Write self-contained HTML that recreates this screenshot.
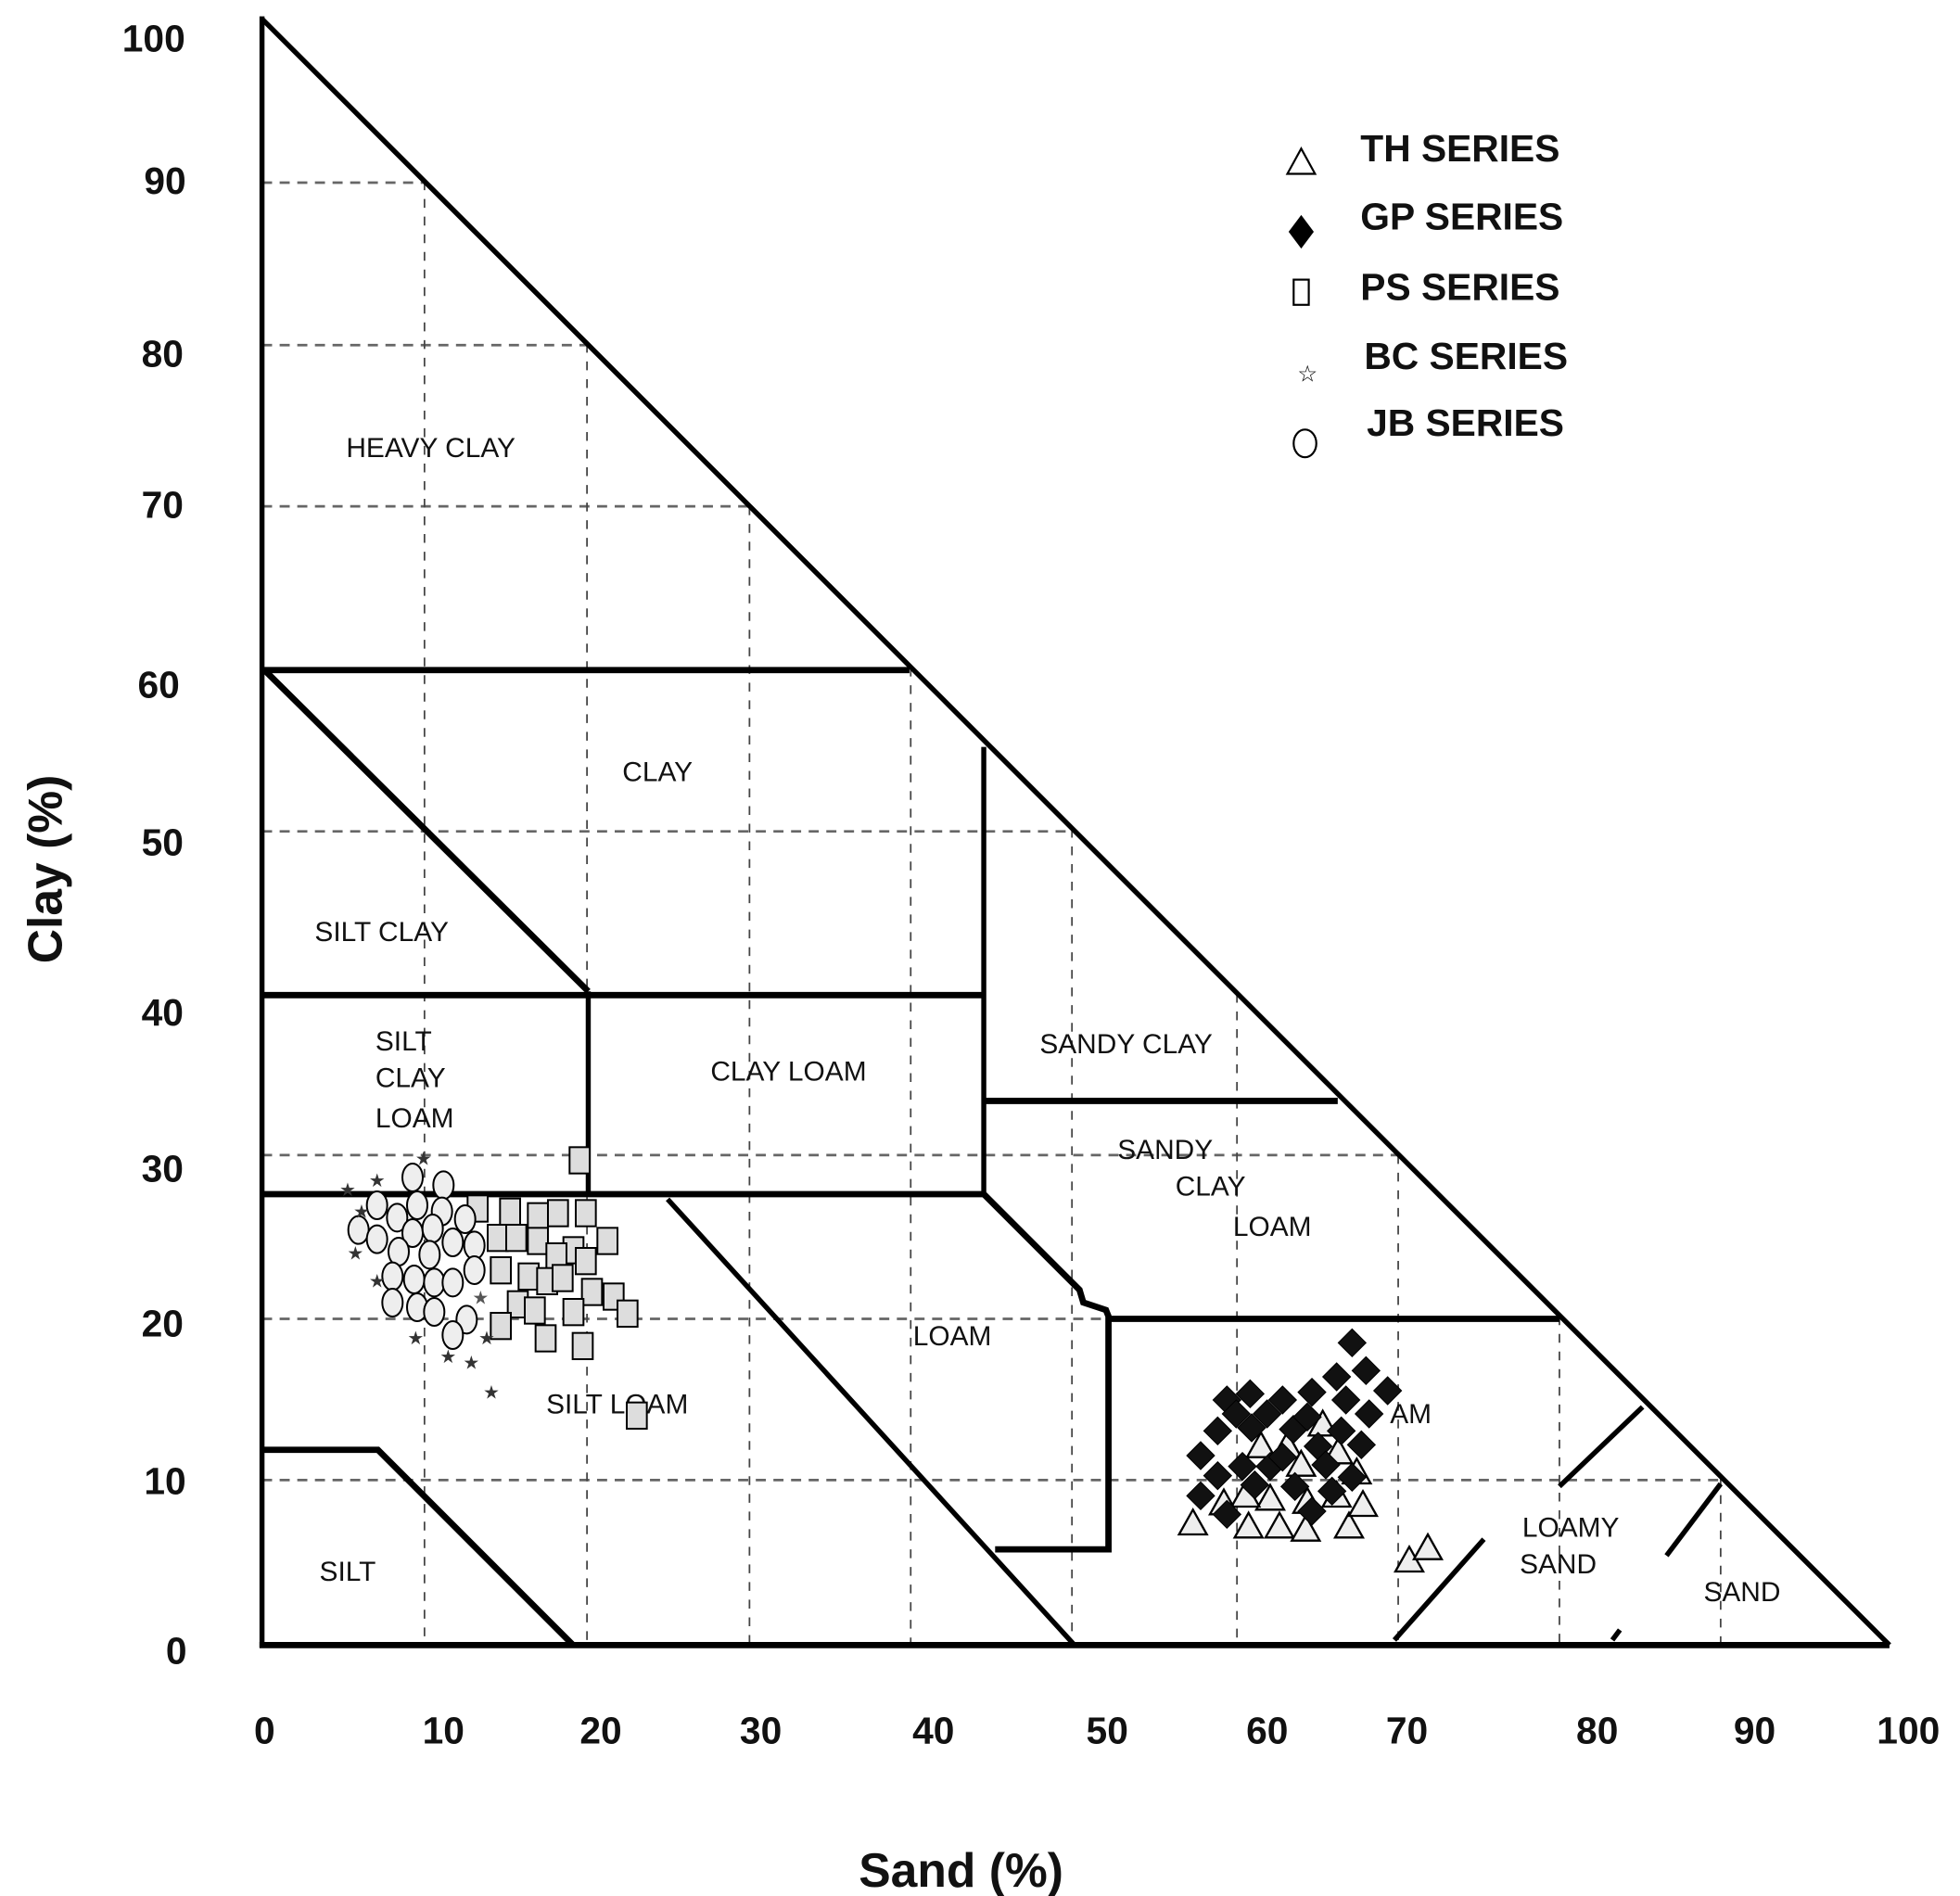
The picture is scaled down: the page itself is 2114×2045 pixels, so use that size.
<!DOCTYPE html>
<html><head><meta charset="utf-8"><style>
html,body{margin:0;padding:0;background:#fff;}
svg{display:block;}
text{font-family:"Liberation Sans",sans-serif;}
</style></head><body>
<svg width="2114" height="2045" viewBox="0 0 2114 2045" xmlns="http://www.w3.org/2000/svg">
<g transform="scale(1.35861)">
 <g stroke="#666" stroke-width="2" stroke-dasharray="8,6" fill="none">
  <line x1="208" y1="145" x2="338" y2="145"/>
  <line x1="208" y1="274" x2="467" y2="274"/>
  <line x1="208" y1="402" x2="595" y2="402"/>
  <line x1="208" y1="660" x2="853" y2="660"/>
  <line x1="208" y1="917" x2="1110" y2="917"/>
  <line x1="208" y1="1047" x2="1240" y2="1047"/>
  <line x1="208" y1="1175" x2="1368" y2="1175"/>
 </g>
 <g stroke="#444" stroke-width="1.3" stroke-dasharray="7,7" fill="none">
  <line x1="337" y1="144" x2="337" y2="1306"/>
  <line x1="466" y1="273" x2="466" y2="1306"/>
  <line x1="595" y1="402" x2="595" y2="1306"/>
  <line x1="723" y1="530" x2="723" y2="1306"/>
  <line x1="851" y1="658" x2="851" y2="1306"/>
  <line x1="982" y1="789" x2="982" y2="1306"/>
  <line x1="1110" y1="917" x2="1110" y2="1306"/>
  <line x1="1238" y1="1045" x2="1238" y2="1306"/>
  <line x1="1366" y1="1173" x2="1366" y2="1306"/>
 </g>
 <g stroke="#000" stroke-width="4" fill="none" stroke-linejoin="miter">
  <line x1="208" y1="13" x2="208" y2="1308"/>
  <line x1="208" y1="15" x2="1500" y2="1306"/>
  <line x1="206" y1="1306" x2="1500" y2="1306" stroke-width="5"/>
  <line x1="208" y1="532" x2="722" y2="532" stroke-width="5"/>
  <line x1="210" y1="532" x2="467" y2="787" stroke-width="5"/>
  <line x1="208" y1="790" x2="780" y2="790" stroke-width="5"/>
  <line x1="467" y1="787" x2="467" y2="948"/>
  <line x1="781" y1="593" x2="781" y2="948"/>
  <line x1="208" y1="948" x2="781" y2="948" stroke-width="5"/>
  <line x1="781" y1="874" x2="1062" y2="874" stroke-width="5"/>
  <polyline points="781,948 857,1024 860,1034 878,1040 880,1045 880,1230 790,1230" stroke-width="5"/>
  <line x1="880" y1="1047" x2="1238" y2="1047" stroke-width="5"/>
  <line x1="530" y1="952" x2="853" y2="1306"/>
  <polyline points="208,1151 300,1151 455,1306" stroke-width="5"/>
  <line x1="1107" y1="1302" x2="1178" y2="1222"/>
  <line x1="1238" y1="1180" x2="1304" y2="1117"/>
  <line x1="1323" y1="1235" x2="1366" y2="1178"/>
  <line x1="1280" y1="1302" x2="1286" y2="1294"/>
 </g>
 <g font-size="22" fill="#111">
  <text x="342" y="363" text-anchor="middle">HEAVY  CLAY</text>
  <text x="522" y="620" text-anchor="middle">CLAY</text>
  <text x="303" y="747" text-anchor="middle">SILT  CLAY</text>
  <text x="298" y="834">SILT</text>
  <text x="298" y="863">CLAY</text>
  <text x="298" y="895">LOAM</text>
  <text x="626" y="858" text-anchor="middle">CLAY  LOAM</text>
  <text x="894" y="836" text-anchor="middle">SANDY  CLAY</text>
  <text x="925" y="920" text-anchor="middle">SANDY</text>
  <text x="961" y="949" text-anchor="middle">CLAY</text>
  <text x="1010" y="981" text-anchor="middle">LOAM</text>
  <text x="756" y="1068" text-anchor="middle">LOAM</text>
  <text x="490" y="1122" text-anchor="middle">SILT LOAM</text>
  <text x="276" y="1255" text-anchor="middle">SILT</text>
  <text x="1247" y="1220" text-anchor="middle">LOAMY</text>
  <text x="1237" y="1249" text-anchor="middle">SAND</text>
  <text x="1383" y="1271" text-anchor="middle">SAND</text>
  <text x="1120" y="1130" text-anchor="middle">AM</text>
 </g>
 <g font-size="30" font-weight="bold" fill="#111" text-anchor="middle">
  <text x="122" y="41">100</text>
  <text x="131" y="154">90</text>
  <text x="129" y="291">80</text>
  <text x="129" y="411">70</text>
  <text x="126" y="554">60</text>
  <text x="129" y="679">50</text>
  <text x="129" y="814">40</text>
  <text x="129" y="938">30</text>
  <text x="129" y="1061">20</text>
  <text x="131" y="1186">10</text>
  <text x="140" y="1321">0</text>
  <text x="210" y="1384">0</text>
  <text x="352" y="1384">10</text>
  <text x="477" y="1384">20</text>
  <text x="604" y="1384">30</text>
  <text x="741" y="1384">40</text>
  <text x="879" y="1384">50</text>
  <text x="1006" y="1384">60</text>
  <text x="1117" y="1384">70</text>
  <text x="1268" y="1384">80</text>
  <text x="1393" y="1384">90</text>
  <text x="1515" y="1384">100</text>
  <text x="763" y="1498" font-size="38">Sand (%)</text>
  <text transform="translate(49,690) rotate(-90)" font-size="38">Clay (%)</text>
 </g>
 <g font-size="30" font-weight="bold" fill="#111">
  <text x="1080" y="128">TH  SERIES</text>
  <text x="1080" y="182">GP  SERIES</text>
  <text x="1080" y="238">PS  SERIES</text>
  <text x="1083" y="293">BC  SERIES</text>
  <text x="1085" y="346">JB  SERIES</text>
 </g>
 <g stroke="#000" stroke-width="1.6">
  <polygon points="1033,118 1044,138 1022,138" fill="#fff"/>
  <polygon points="1033,172 1042,184 1033,196 1024,184" fill="#000"/>
  <rect x="1027" y="222" width="12" height="20" fill="#fff"/>
  <text x="1038" y="303" font-size="18" text-anchor="middle" stroke="none" fill="#000">☆</text>
  <ellipse cx="1036" cy="352" rx="9" ry="11" fill="#fff"/>
 </g>
</g>
<g transform="translate(1270 1400) scale(0.33333)" stroke="#000" stroke-width="7">
 <g fill="#eee">
  <polygon points="50,685 95,765 5,765"/><polygon points="230,695 275,775 185,775"/>
  <polygon points="330,695 375,775 285,775"/><polygon points="415,705 460,785 370,785"/>
  <polygon points="555,695 600,775 510,775"/><polygon points="600,625 645,705 555,705"/>
  <polygon points="515,595 560,675 470,675"/><polygon points="300,605 345,685 255,685"/>
  <polygon points="220,595 265,675 175,675"/><polygon points="420,615 465,695 375,695"/>
  <polygon points="355,435 400,515 310,515"/><polygon points="470,365 515,445 425,445"/>
  <polygon points="400,495 445,575 355,575"/><polygon points="270,435 315,515 225,515"/>
  <polygon points="520,455 565,535 475,535"/><polygon points="750,805 795,885 705,885"/>
  <polygon points="810,765 855,845 765,845"/>
  <polygon points="150,620 195,700 105,700"/><polygon points="580,520 625,600 535,600"/>
 </g>
 <g fill="#111" stroke-width="3">
  <polygon points="565,100 610,145 565,190 520,145"/><polygon points="610,190 655,235 610,280 565,235"/>
  <polygon points="515,210 560,255 515,300 470,255"/><polygon points="680,255 725,300 680,345 635,300"/>
  <polygon points="160,285 205,330 160,375 115,330"/><polygon points="235,265 280,310 235,355 190,310"/>
  <polygon points="340,285 385,330 340,375 295,330"/><polygon points="435,260 480,305 435,350 390,305"/>
  <polygon points="545,285 590,330 545,375 500,330"/><polygon points="620,330 665,375 620,420 575,375"/>
  <polygon points="130,385 175,430 130,475 85,430"/><polygon points="240,375 285,420 240,465 195,420"/>
  <polygon points="375,380 420,425 375,470 330,425"/><polygon points="530,385 575,430 530,475 485,430"/>
  <polygon points="455,435 500,480 455,525 410,480"/><polygon points="595,430 640,475 595,520 550,475"/>
  <polygon points="75,465 120,510 75,555 30,510"/><polygon points="130,530 175,575 130,620 85,575"/>
  <polygon points="210,500 255,545 210,590 165,545"/><polygon points="300,500 345,545 300,590 255,545"/>
  <polygon points="480,495 525,540 480,585 435,540"/><polygon points="565,535 610,580 565,625 520,580"/>
  <polygon points="75,595 120,640 75,685 30,640"/><polygon points="160,655 205,700 160,745 115,700"/>
  <polygon points="380,565 425,610 380,655 335,610"/><polygon points="435,645 480,690 435,735 390,690"/>
  <polygon points="290,330 335,375 290,420 245,375"/><polygon points="190,330 235,375 190,420 145,375"/>
  <polygon points="420,340 465,385 420,430 375,385"/><polygon points="340,470 385,515 340,560 295,515"/>
  <polygon points="250,560 295,605 250,650 205,605"/><polygon points="500,580 545,625 500,670 455,625"/>
 </g>
</g>
<g transform="translate(360 1240) scale(0.33333)" stroke="#000" stroke-width="6">
 <g fill="#ddd">
  <rect x="763" y="-8" width="65" height="85"/><rect x="538" y="158" width="65" height="85"/>
  <rect x="628" y="173" width="65" height="85"/><rect x="693" y="163" width="65" height="85"/>
  <rect x="783" y="163" width="65" height="85"/><rect x="498" y="243" width="65" height="85"/>
  <rect x="558" y="243" width="65" height="85"/><rect x="628" y="253" width="65" height="85"/>
  <rect x="853" y="253" width="65" height="85"/><rect x="743" y="283" width="65" height="85"/>
  <rect x="688" y="303" width="65" height="85"/><rect x="783" y="318" width="65" height="85"/>
  <rect x="508" y="348" width="65" height="85"/><rect x="598" y="368" width="65" height="85"/>
  <rect x="658" y="383" width="65" height="85"/><rect x="708" y="373" width="65" height="85"/>
  <rect x="803" y="418" width="65" height="85"/><rect x="873" y="433" width="65" height="85"/>
  <rect x="918" y="488" width="65" height="85"/><rect x="563" y="458" width="65" height="85"/>
  <rect x="618" y="478" width="65" height="85"/><rect x="743" y="483" width="65" height="85"/>
  <rect x="508" y="528" width="65" height="85"/><rect x="653" y="568" width="65" height="85"/>
  <rect x="773" y="593" width="65" height="85"/><rect x="433" y="148" width="65" height="85"/>
  <rect x="948" y="818" width="65" height="85"/>
 </g>
 <g fill="#eee">
  <ellipse cx="255" cy="90" rx="33" ry="45"/><ellipse cx="355" cy="115" rx="33" ry="45"/>
  <ellipse cx="140" cy="180" rx="33" ry="45"/><ellipse cx="205" cy="220" rx="33" ry="45"/>
  <ellipse cx="270" cy="180" rx="33" ry="45"/><ellipse cx="350" cy="200" rx="33" ry="45"/>
  <ellipse cx="425" cy="225" rx="33" ry="45"/><ellipse cx="80" cy="260" rx="33" ry="45"/>
  <ellipse cx="140" cy="290" rx="33" ry="45"/><ellipse cx="255" cy="270" rx="33" ry="45"/>
  <ellipse cx="320" cy="255" rx="33" ry="45"/><ellipse cx="385" cy="300" rx="33" ry="45"/>
  <ellipse cx="210" cy="330" rx="33" ry="45"/><ellipse cx="310" cy="340" rx="33" ry="45"/>
  <ellipse cx="455" cy="310" rx="33" ry="45"/><ellipse cx="190" cy="410" rx="33" ry="45"/>
  <ellipse cx="260" cy="420" rx="33" ry="45"/><ellipse cx="325" cy="430" rx="33" ry="45"/>
  <ellipse cx="385" cy="430" rx="33" ry="45"/><ellipse cx="455" cy="390" rx="33" ry="45"/>
  <ellipse cx="190" cy="495" rx="33" ry="45"/><ellipse cx="270" cy="510" rx="33" ry="45"/>
  <ellipse cx="325" cy="525" rx="33" ry="45"/><ellipse cx="430" cy="550" rx="33" ry="45"/>
  <ellipse cx="385" cy="600" rx="33" ry="45"/>
 </g>
 <g font-size="60" fill="#333" stroke="none" text-anchor="middle">
  <text x="290" y="50">★</text><text x="140" y="120">★</text><text x="45" y="150">★</text>
  <text x="90" y="220">★</text><text x="70" y="355">★</text><text x="140" y="445">★</text>
  <text x="265" y="630">★</text><text x="370" y="690">★</text><text x="445" y="710">★</text>
  <text x="495" y="630">★</text><text x="510" y="805">★</text><text x="475" y="500" fill="#555">★</text>
 </g>
</g>
</svg>
</body></html>
